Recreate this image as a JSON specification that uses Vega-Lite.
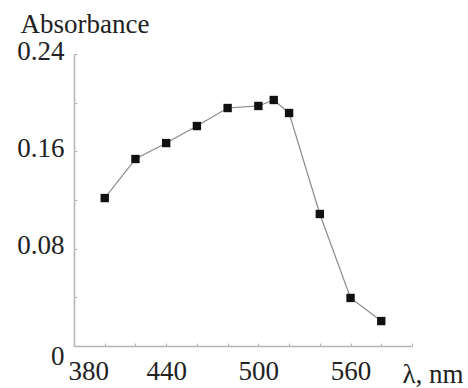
{
  "$schema": "https://vega.github.io/schema/vega-lite/v6.json",
  "width": 338,
  "height": 292,
  "autosize": {"type": "none"},
  "padding": {"left": 74, "top": 54, "right": 56, "bottom": 42},
  "background": "white",
  "config": {
    "view": {"stroke": null},
    "font": "Liberation Serif"
  },
  "data": {
    "values": [
      {"wavelength": 400, "absorbance": 0.1216},
      {"wavelength": 420, "absorbance": 0.1537},
      {"wavelength": 440, "absorbance": 0.1668},
      {"wavelength": 460, "absorbance": 0.1808},
      {"wavelength": 480, "absorbance": 0.1956},
      {"wavelength": 500, "absorbance": 0.1973},
      {"wavelength": 510, "absorbance": 0.2022},
      {"wavelength": 520, "absorbance": 0.1915},
      {"wavelength": 540, "absorbance": 0.1085},
      {"wavelength": 560, "absorbance": 0.0395},
      {"wavelength": 580, "absorbance": 0.0205}
    ]
  },
  "encoding": {
    "x": {
      "field": "wavelength",
      "type": "quantitative",
      "scale": {"domain": [380, 600], "nice": false, "zero": false},
      "axis": {
        "values": [380, 400, 420, 440, 460, 480, 500, 520, 540, 560, 580, 600],
        "labelExpr": "datum.value % 60 == 20 ? datum.label : ''",
        "grid": false,
        "domainColor": "#b5b5b5",
        "domainWidth": 1.5,
        "tickColor": "#b5b5b5",
        "tickSize": -3,
        "tickWidth": 1,
        "labelFont": "Liberation Serif",
        "labelFontSize": 27,
        "labelColor": "#222",
        "labelPadding": 15,
        "labelFlush": false,
        "labelOverlap": false,
        "labelAlign": {"condition": {"test": "datum.value == 380", "value": "left"}, "value": "center"},
        "labelOffset": {"condition": {"test": "datum.value == 380", "value": -6}, "value": 0},
        "title": "λ, nm",
        "titleFont": "Liberation Serif",
        "titleFontSize": 27,
        "titleFontWeight": "normal",
        "titleColor": "#222",
        "titleAlign": "right",
        "titleAnchor": null,
        "titleBaseline": "alphabetic",
        "titleX": 389,
        "titleY": 36
      }
    },
    "y": {
      "field": "absorbance",
      "type": "quantitative",
      "scale": {"domain": [0, 0.24], "nice": false},
      "axis": {
        "values": [0, 0.04, 0.08, 0.12, 0.16, 0.2, 0.24],
        "labelExpr": "round(datum.value * 100) % 8 == 0 ? (datum.value == 0 ? '0' : format(datum.value, '.2f')) : ''",
        "grid": false,
        "domainColor": "#b5b5b5",
        "domainWidth": 1.5,
        "tickColor": "#b5b5b5",
        "tickSize": -3,
        "tickWidth": 1,
        "labelFont": "Liberation Serif",
        "labelFontSize": 27,
        "labelColor": "#222",
        "labelPadding": 13,
        "labelFlush": false,
        "labelOverlap": false,
        "labelBaseline": "middle",
        "labelOffset": {"condition": {"test": "datum.value == 0", "value": 10}, "value": -3},
        "title": "Absorbance",
        "titleFont": "Liberation Serif",
        "titleFontSize": 27,
        "titleFontWeight": "normal",
        "titleColor": "#222",
        "titleAngle": 0,
        "titleAlign": "left",
        "titleAnchor": null,
        "titleBaseline": "alphabetic",
        "titleX": -54,
        "titleY": -22
      }
    }
  },
  "layer": [
    {
      "mark": {"type": "line", "color": "#8a8a8a", "strokeWidth": 1.2}
    },
    {
      "mark": {"type": "point", "shape": "square", "filled": true, "color": "#111", "opacity": 1, "size": 70}
    }
  ]
}
